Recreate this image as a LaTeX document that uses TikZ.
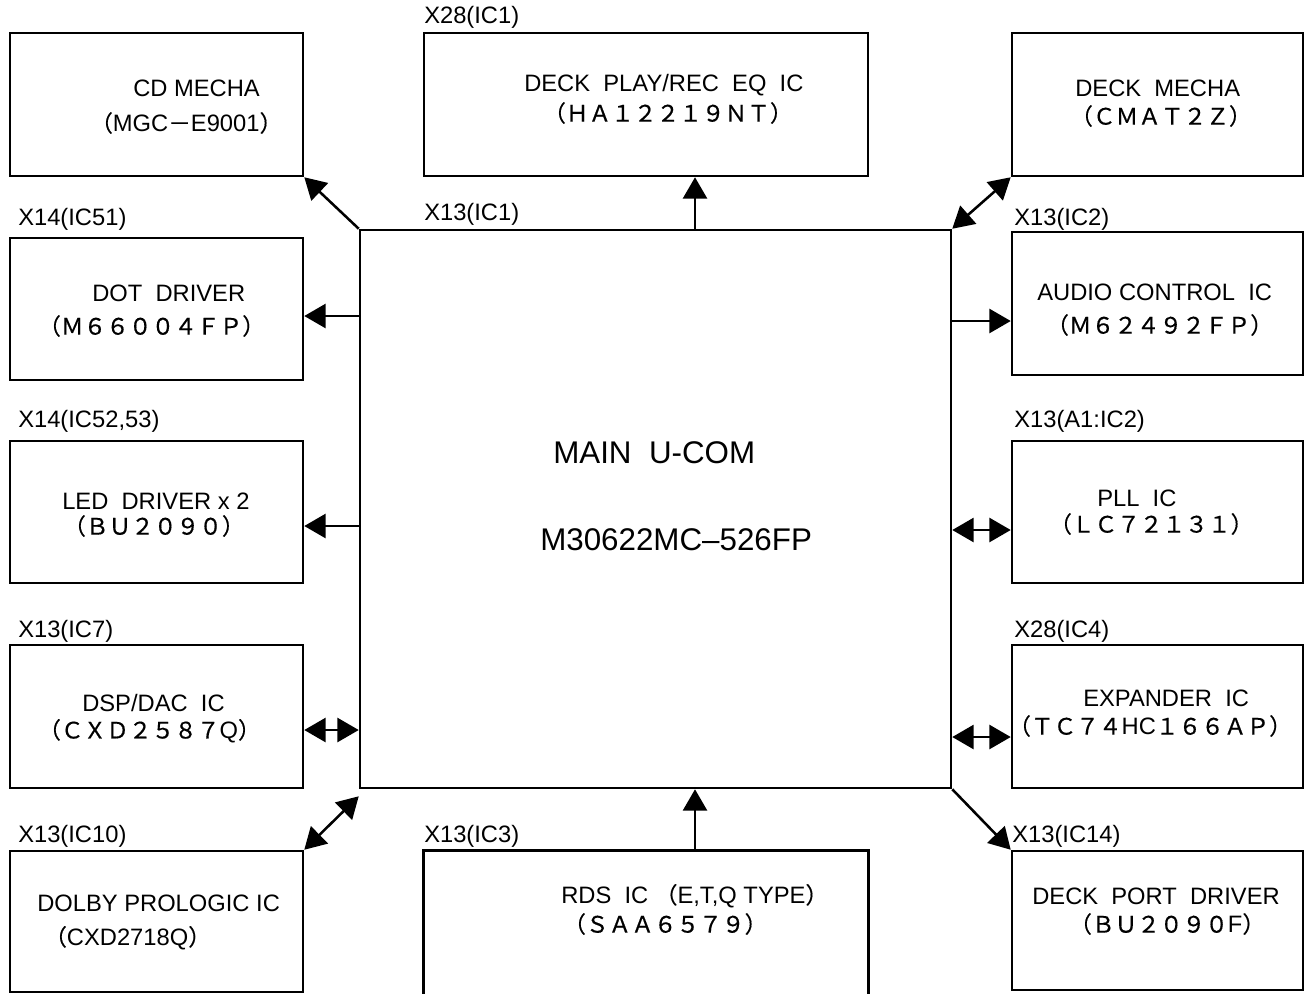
\documentclass[tikz,border=0pt]{standalone}
\usepackage{fontspec}
\setmainfont{Liberation Sans}
\newfontfamily\cjkfont[FakeBold=0.5]{Noto Sans CJK JP}
\usetikzlibrary{arrows.meta,calc}
\newcommand{\fw}[1]{{\cjkfont\fontsize{17}{20}\selectfont #1}}
\begin{document}
\begin{tikzpicture}[x=0.75pt,y=-0.75pt,
  box/.style={draw, line width=1.9pt, inner sep=0, minimum width=219.75pt, minimum height=107.25pt},
  lbl/.style={anchor=west, inner sep=0, font=\fontsize{17.8}{21}\selectfont},
  big/.style={anchor=west, inner sep=0, font=\fontsize{23.5}{28}\selectfont},
  tipb/.tip={Triangle[length=16pt,width=18pt]},
  arr/.style={line width=1.9pt, -tipb},
  darr/.style={line width=1.9pt, tipb-tipb}]
\useasboundingbox (0,0) rectangle (1308,993);
\fill[white] (0,0) rectangle (1308,993);
% boxes
\node[box] (cd) at (156.5,104.5) {};
\node[box, minimum width=333pt] (deq) at (646,104.5) {};
\node[box, minimum width=218.25pt] (dm) at (1157.5,104.5) {};
\node[box, minimum height=106.5pt] (dot) at (156.5,309) {};
\node[box, minimum width=218.25pt] (ac) at (1157.5,303.5) {};
\node[box, minimum height=106.5pt] (led) at (156.5,512) {};
\node[box, minimum width=218.25pt, minimum height=106.5pt] (pll) at (1157.5,512) {};
\node[box] (dsp) at (156.5,716.5) {};
\node[box, minimum width=218.25pt] (exp) at (1157.5,716.5) {};
\node[box, minimum height=105.75pt] (dolby) at (156.5,921.5) {};
\node[box, minimum width=218.25pt, minimum height=104.25pt] (dpd) at (1157.5,920.5) {};
\node[box, minimum width=443.25pt, minimum height=418.5pt] (main) at (655.5,509) {};
\node[inner sep=0, minimum width=333pt, minimum height=108pt] (rds) at (646,923) {};
\draw[line width=1.9pt] (rds.south west) -- (rds.north west) -- (rds.north east) -- (rds.south east);
% reference labels
\node[lbl] (l1) at (424,17) {X28(IC1)};
\node[lbl] (l2) at (424,214) {X13(IC1)};
\node[lbl] (l3) at (18,219) {X14(IC51)};
\node[lbl] (l4) at (1014,219) {X13(IC2)};
\node[lbl] (l5) at (18,421) {X14(IC52,53)};
\node[lbl] (l6) at (1014,421) {X13(A1:IC2)};
\node[lbl] (l7) at (18,631) {X13(IC7)};
\node[lbl] (l8) at (1014,631) {X28(IC4)};
\node[lbl] (l9) at (18,836) {X13(IC10)};
\node[lbl] (l10) at (424,836) {X13(IC3)};
\node[lbl] (l11) at (1012,836) {X13(IC14)};
% box texts
\node[lbl] (cd1) at (133,88) {CD MECHA};
\node[lbl] (cd2) at (90,123) {\fw{（}MGC\fw{－}E9001\fw{）}};
\node[lbl] (deq1) at (524,85) {DECK\ \ PLAY/REC\ \ EQ\ \ IC};
\node[lbl] (deq2) at (543,113) {\fw{（ＨＡ１２２１９ＮＴ）}};
\node[lbl] (dm1) at (1075,88) {DECK\ \ MECHA};
\node[lbl] (dm2) at (1070,116) {\fw{（ＣＭＡＴ２Ｚ）}};
\node[lbl] (dot1) at (92,293) {DOT\ \ DRIVER};
\node[lbl] (dot2) at (38,326) {\fw{（Ｍ６６００４ＦＰ）}};
\node[lbl] (ac1) at (1037,292) {AUDIO CONTROL\ \ IC};
\node[lbl] (ac2) at (1046,325) {\fw{（Ｍ６２４９２ＦＰ）}};
\node[lbl] (led1) at (62,501) {LED\ \ DRIVER x 2};
\node[lbl] (led2) at (63,526) {\fw{（ＢＵ２０９０）}};
\node[lbl] (pll1) at (1097,498) {PLL\ \ IC};
\node[lbl] (pll2) at (1049,524) {\fw{（ＬＣ７２１３１）}};
\node[lbl] (dsp1) at (82,703) {DSP/DAC\ \ IC};
\node[lbl] (dsp2) at (38,731) {\fw{（ＣＸＤ２５８７}Q\fw{）}};
\node[lbl] (exp1) at (1083,698) {EXPANDER\ \ IC};
\node[lbl] (exp2) at (1008,726) {\fw{（ＴＣ７４}HC\fw{１６６ＡＰ）}};
\node[lbl] (dol1) at (37,903) {DOLBY PROLOGIC IC};
\node[lbl] (dol2) at (44,938) {\fw{（}CXD2718Q\fw{）}};
\node[lbl] (rds1) at (561,896) {RDS\ \ IC\ \fw{（}E,T,Q TYPE\fw{）}};
\node[lbl] (rds2) at (563,924) {\fw{（ＳＡＡ６５７９）}};
\node[lbl] (dpd1) at (1032,896) {DECK\ \ PORT\ \ DRIVER};
\node[lbl] (dpd2) at (1069,924) {\fw{（ＢＵ２０９０}F\fw{）}};
% main text
\node[big] (m1) at (553,453) {MAIN\ \ U-COM};
\node[big] (m2) at (540,540) {M30622MC--526FP};
% helper coordinates
\coordinate (ax) at (695,0);
\coordinate (ydot) at (0,316);
\coordinate (yac) at (0,321);
\coordinate (yled) at (0,526);
\coordinate (ypll) at (0,530);
\coordinate (ydsp) at (0,730);
\coordinate (yexp) at (0,737);
% connectors
\draw[arr] (main.north west) -- (cd.south east);
\draw[arr] (main.north -| ax) -- (deq.south -| ax);
\draw[darr] (main.north east) -- (dm.south west);
\draw[arr] (main.west |- ydot) -- (dot.east |- ydot);
\draw[arr] (main.east |- yac) -- (ac.west |- yac);
\draw[arr] (main.west |- yled) -- (led.east |- yled);
\draw[darr] (main.east |- ypll) -- (pll.west |- ypll);
\draw[darr] (main.west |- ydsp) -- (dsp.east |- ydsp);
\draw[darr] (main.east |- yexp) -- (exp.west |- yexp);
\draw[darr] ($(main.south west)+(0,7)$) -- (dolby.north east);
\draw[arr] (rds.north -| ax) -- (main.south -| ax);
\draw[arr] (main.south east) -- (dpd.north west);
\end{tikzpicture}
\end{document}
